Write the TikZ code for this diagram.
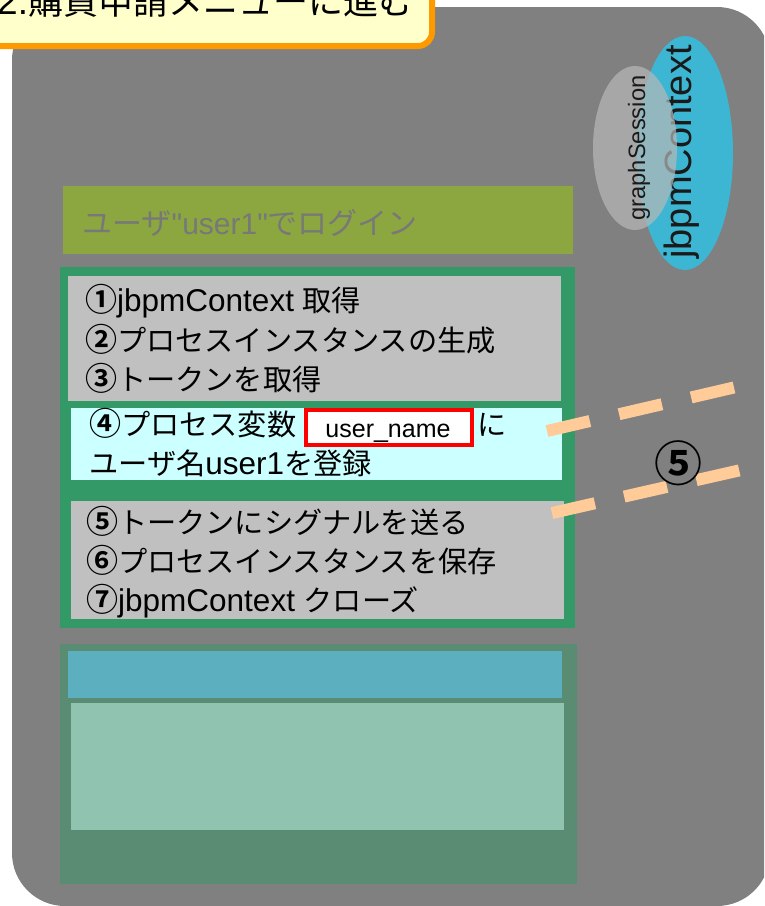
\documentclass[tikz,border=0pt]{standalone}
\usepackage{fontspec}
\setmainfont{Noto Sans CJK JP}[BoldFont={Noto Sans CJK JP Bold}]
\newfontfamily\lat{Liberation Sans}
\newcommand\cdig[1]{{\bfseries\fontsize{32}{36}\selectfont #1}}
\newcommand\latb[1]{{\lat\fontsize{31.5}{36}\selectfont #1}}
\usetikzlibrary{shapes.geometric}
\definecolor{bggray}{HTML}{808080}
\definecolor{titlefill}{HTML}{FFFFCC}
\definecolor{titleline}{HTML}{FF9900}
\definecolor{framegreen}{HTML}{339966}
\definecolor{boxgray}{HTML}{C0C0C0}
\definecolor{boxcyan}{HTML}{CCFFFF}
\definecolor{loginbar}{HTML}{8CA640}
\definecolor{logintext}{HTML}{787878}
\definecolor{btmgreen}{HTML}{5A8C73}
\definecolor{btmblue}{HTML}{5BAFBF}
\definecolor{btmlight}{HTML}{90C4B0}
\definecolor{jcblue}{HTML}{3CB6D2}
\definecolor{gsgray}{HTML}{B8B8B8}
\definecolor{peach}{HTML}{FFCC99}
\definecolor{textdark}{HTML}{1A1A1A}
\tikzset{
  txt/.style={anchor=base west, inner sep=0, font=\fontsize{29.2}{36}\selectfont, text=black},
  dashband/.style={draw=peach, line width=12, dash pattern=on 44 off 30},
}
\begin{document}
\begin{tikzpicture}[x=1pt,y=-1pt]
\useasboundingbox (0,0) rectangle (764,906);
\clip (0,0) rectangle (764,906);
% background
\fill[bggray, rounded corners=53] (12,7) rectangle (770,906);
% title
\draw[fill=titlefill, draw=titleline, line width=6, rounded corners=14] (-30,-30) rectangle (432,46);
\node[anchor=base west, inner sep=0, font=\fontsize{35}{44}\selectfont] (title) at (-3,14) {{\lat\fontsize{37}{44}\selectfont 2.}購買申請メニューに進む};
% ellipses
\node[ellipse, fill=jcblue, minimum width=96, minimum height=234, inner sep=0] (jc) at (685,153) {};
\node[rotate=90, inner sep=0, font=\lat\fontsize{38}{44}\selectfont, text=textdark] (jctext) at (682,152) {jbpmContext};
\node[ellipse, fill=gsgray, fill opacity=0.7, minimum width=84, minimum height=164, inner sep=0] (gs) at (635,148) {};
\node[rotate=90, inner sep=0, font=\lat\fontsize{23.7}{28}\selectfont, text=textdark] (gstext) at (639,148) {graphSession};
% login bar
\fill[loginbar] (63,185.5) rectangle (573,254);
\node[anchor=base west, inner sep=0, font=\fontsize{30}{36}\selectfont, text=logintext] (login) at (82,234) {ユーザ{\lat "user1"}でログイン};
% green frame and boxes
\fill[framegreen] (60,267) rectangle (575,628);
\fill[boxgray] (68,275.5) rectangle (561,401);
\fill[boxcyan] (71,408) rectangle (562,480);
\fill[boxgray] (71,501) rectangle (564,619);
\node[txt] (l1) at (85,311) {\cdig{①}\latb{jbpmContext }取得};
\node[txt] (l2) at (85,351) {\cdig{②}プロセスインスタンスの生成};
\node[txt] (l3) at (85,390) {\cdig{③}トークンを取得};
\node[txt] (l4) at (89,435) {\cdig{④}プロセス変数};
\node[draw=red, line width=4, fill=white, minimum width=166, minimum height=35, inner sep=0] (rb) at (389,427.5) {};
\node[anchor=base, inner sep=0, font=\lat\fontsize{25}{30}\selectfont] (un) at (388,437) {user\_name};
\node[txt] (l4b) at (477,435) {に};
\node[txt] (l4c) at (89,474) {ユーザ名\latb{user1}を登録};
\node[txt] (l5) at (86,533) {\cdig{⑤}トークンにシグナルを送る};
\node[txt] (l6) at (86,572) {\cdig{⑥}プロセスインスタンスを保存};
\node[txt] (l7) at (86,611) {\cdig{⑦}\latb{jbpmContext }クローズ};
% bottom section
\fill[btmgreen] (60,644) rectangle (577,884);
\fill[btmblue] (68,651) rectangle (562,698);
\fill[btmlight] (71,703) rectangle (564,830);
% dashed bands
\coordinate (ua) at (547,431);
\coordinate (ub) at (736,387);
\coordinate (la) at (552,513);
\coordinate (lb) at (741,470);
\draw[dashband] (ua) -- (ub);
\draw[dashband] (la) -- (lb);
\node[inner sep=0, font=\bfseries\fontsize{48}{52}\selectfont] (five) at (678,463) {⑤};
\end{tikzpicture}
\end{document}
